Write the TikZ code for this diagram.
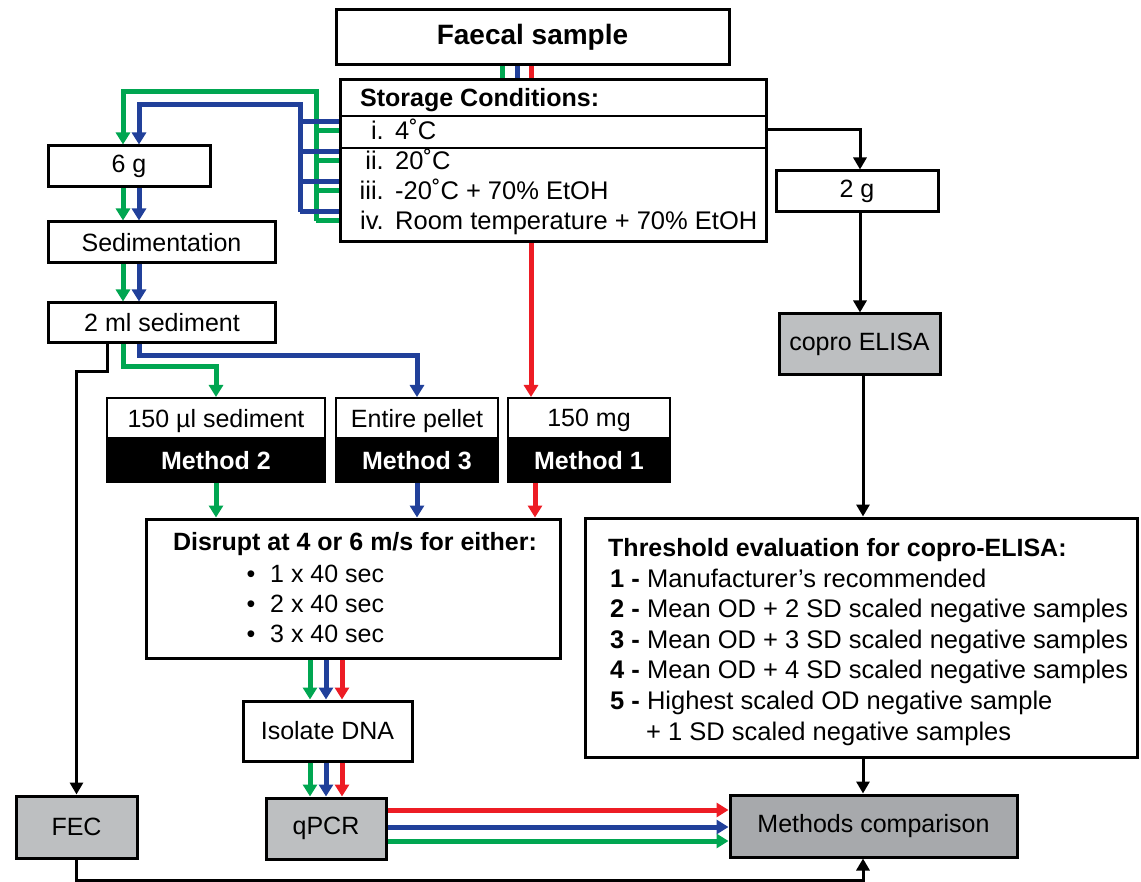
\documentclass[tikz,border=0pt]{standalone}
\usepackage{fontspec}
\setmainfont{Liberation Sans}
\usepackage{tikz}
\usetikzlibrary{arrows.meta, positioning, calc}

\definecolor{lgreen}{RGB}{0,166,81}
\definecolor{lblue}{RGB}{33,64,154}
\definecolor{lred}{RGB}{237,28,36}
\definecolor{boxgrey}{RGB}{189,191,193}
\definecolor{darkgrey}{RGB}{167,169,172}

\newcommand{\fs}{\fontsize{25}{30}\selectfont}
\tikzset{
  box/.style={rectangle, draw, line width=3pt, fill=white, inner sep=0pt,
              align=center, font=\fs},
  greybox/.style={box, fill=boxgrey},
  resbox/.style={box, fill=darkgrey},
  mtop/.style={rectangle, draw, line width=2pt, fill=white, inner sep=0pt,
               minimum height=40pt, text depth=0pt, font=\fs},
  mbot/.style={rectangle, draw, line width=2pt, fill=black, text=white, inner sep=0pt,
               minimum height=42pt, font=\fs\bfseries},
  txt/.style={inner sep=0pt, font=\fs},
  tline/.style={inner sep=0pt, font=\fontsize{25.5}{30}\selectfont},
}

\begin{document}
\begin{tikzpicture}[x=1pt, y=-1pt,
  arr/.style={-{Triangle[width=13pt,length=12pt]}, line width=3pt},
  lane/.style={line width=5pt},
  lanearr/.style={lane, -{Triangle[width=14pt,length=12pt]}}
]
  \path[use as bounding box, fill=white] (0,0) rectangle (1141,882);

  % boxes
  \node[box, minimum width=393pt, minimum height=55pt,
        font=\fontsize{28}{32}\selectfont\bfseries] (faecal) at (532.5,37.5) {Faecal sample};
  \node[box, minimum width=426pt, minimum height=162pt] (storage) at (553,161) {};
  \node[box, minimum width=162pt, minimum height=41pt] (sixg) at (129,166.5) {6 g};
  \node[box, minimum width=227pt, minimum height=41pt] (sed)  at (161.5,242.5) {Sedimentation};
  \node[box, minimum width=227pt, minimum height=40pt] (ml)   at (162,323) {2 ml sediment};
  \node[box, minimum width=162pt, minimum height=41pt] (twog) at (857,191.5) {2 g};
  \node[greybox, minimum width=161pt, minimum height=61pt] (elisa) at (859.5,344.5) {copro ELISA};

  \node[mtop, minimum width=218pt] (m2a) at (216,418) {150 µl sediment};
  \node[mbot, minimum width=218pt, below=0pt of m2a] (m2) {Method 2};
  \node[mtop, minimum width=162pt] (m3a) at (417,418) {Entire pellet};
  \node[mbot, minimum width=162pt, below=0pt of m3a] (m3) {Method 3};
  \node[mtop, minimum width=162pt] (m1a) at (589,418) {150 mg};
  \node[mbot, minimum width=162pt, below=0pt of m1a] (m1) {Method 1};

  \node[box, minimum width=414pt, minimum height=139pt] (disrupt) at (353,588.5) {};
  \node[box, minimum width=169pt, minimum height=60pt] (iso) at (327.5,731) {Isolate DNA};
  \node[box, minimum width=552pt, minimum height=239pt] (thresh) at (861,637.5) {};

  \node[greybox, minimum width=121pt, minimum height=62pt] (fec)  at (76.5,827) {FEC};
  \node[greybox, minimum width=120pt, minimum height=61pt] (qpcr) at (326,828.5) {qPCR};
  \node[resbox, minimum width=287pt, minimum height=62pt] (mc) at (873.5,826) {Methods comparison};

  % storage conditions
  \node[txt, font=\fs\bfseries, anchor=base west] (sthead) at (360,107) {Storage Conditions:};
  \draw[line width=1.5pt] (storage.west |- 0,116) -- (storage.east |- 0,116);
  \draw[line width=2.5pt] (storage.west |- 0,148) -- (storage.east |- 0,148);
  \foreach \num/\t [count=\k, evaluate=\k as \yb using 110+30*\k] in
      {i./4˚C, ii./20˚C, iii./-20˚C + 70\% EtOH,
       iv./Room temperature + 70\% EtOH} {
    \node[tline, anchor=base east] at (384,\yb) {\num};
    \node[tline, anchor=base west] (r\k) at (395,\yb) {\t};
  }

  % disrupt text
  \node[txt, font=\fs\bfseries, anchor=base] (dhead) at (355,550) {Disrupt at 4 or 6 m/s for either:};
  \foreach \n [evaluate=\n as \yb using 552+30*\n] in {1,2,3} {
    \node[txt, anchor=base] at (251,\yb) {\textbullet};
    \node[txt, anchor=base west] at (270,\yb) {\n\ x 40 sec};
  }

  % threshold text
  \node[txt, font=\fs\bfseries, anchor=base west] (thead) at (608,556) {Threshold evaluation for copro-ELISA:};
  \foreach \n/\t [evaluate=\n as \yb using 556.4+30.6*\n] in
      {1/Manufacturer’s recommended, 2/Mean OD + 2 SD scaled negative samples,
       3/Mean OD + 3 SD scaled negative samples, 4/Mean OD + 4 SD scaled negative samples,
       5/Highest scaled OD negative sample} {
    \node[tline, anchor=base west] at (610,\yb) {\textbf{\n\ -} \t};
  }
  \node[tline, anchor=base west] at (646,740) {+ 1 SD scaled negative samples};

  % lanes for the two sediment methods
  \coordinate (gl) at (123,0);
  \coordinate (bll) at (139,0);

  \foreach \c/\x in {lgreen/502, lblue/517, lred/531}
    \draw[lane, \c] (\x,0 |- faecal.south) -- (\x,0 |- storage.north);

  \draw[lanearr, lgreen] (316,221) -- (316,92) -| (gl |- sixg.north);
  \foreach \k [evaluate=\k as \yg using 101+30*\k] in {1,...,4}
    \draw[lane, lgreen] (storage.west |- 0,\yg) -- (316,\yg);
  \draw[lanearr, lblue] (300,212) -- (300,105) -| (bll |- sixg.north);
  \foreach \k [evaluate=\k as \yb using 92+30*\k] in {1,...,4}
    \draw[lane, lblue] (storage.west |- 0,\yb) -- (300,\yb);

  \draw[lanearr, lgreen] (gl |- sixg.south) -- (gl |- sed.north);
  \draw[lanearr, lblue] (bll |- sixg.south) -- (bll |- sed.north);
  \draw[lanearr, lgreen] (gl |- sed.south) -- (gl |- ml.north);
  \draw[lanearr, lblue] (bll |- sed.south) -- (bll |- ml.north);

  \draw[lanearr, lgreen] (gl |- ml.south) |- ($(m2a.north)+(0,-30)$) -- (m2a.north);
  \draw[lanearr, lblue] (bll |- ml.south) |- ($(m3a.north)+(0,-41)$) -- (m3a.north);
  \draw[lanearr, lred] (531,0 |- storage.south) -- (531,0 |- m1a.north);

  \draw[lanearr, lgreen] (m2.south) -- (m2.south |- disrupt.north);
  \draw[lanearr, lblue] (m3.south) -- (m3.south |- disrupt.north);
  \draw[lanearr, lred] (535,0 |- m1.south) -- (535,0 |- disrupt.north);

  \foreach \c/\x in {lgreen/310, lblue/326, lred/342} {
    \draw[lanearr, \c] (\x,0 |- disrupt.south) -- (\x,0 |- iso.north);
    \draw[lanearr, \c] (\x,0 |- iso.south) -- (\x,0 |- qpcr.north);
  }
  \foreach \c/\y in {lred/810, lblue/827, lgreen/841}
    \draw[lanearr, \c] (qpcr.east |- 0,\y) -- (mc.west |- 0,\y);

  % black connectors
  \draw[arr] (107,0 |- ml.south) -- ++(0,27) -| (fec.north);
  \draw[arr] (storage.east |- 0,130) -| (860,0 |- twog.north);
  \draw[arr] (860,0 |- twog.south) -- (860,0 |- elisa.north);
  \draw[arr] (863,0 |- elisa.south) -- (863,0 |- thresh.north);
  \draw[arr] (863,0 |- thresh.south) -- (863,0 |- mc.north);
  \draw[arr] (fec.south) -- (fec.south |- 0,880) -| (863,0 |- mc.south);
\end{tikzpicture}
\end{document}
